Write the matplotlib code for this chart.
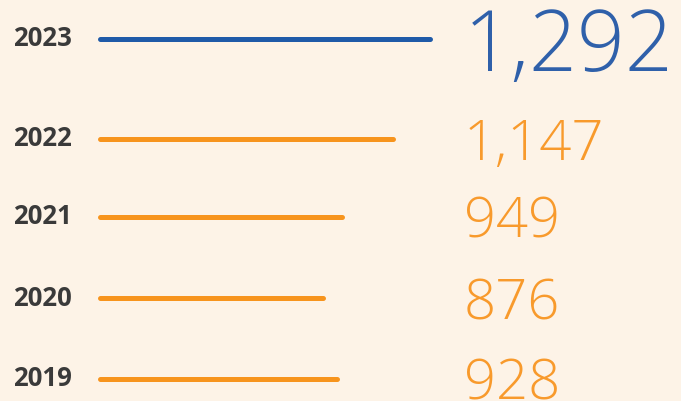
import matplotlib.pyplot as plt

years = ['2023', '2022', '2021', '2020', '2019']
values = [1292, 1147, 949, 876, 928]

# row centres in pixels from the top (layout)
row_y = [38.5, 139, 217, 298, 379]

bg = '#fdf3e7'
blue = '#1f5aa8'
blue_text = '#2f60aa'
orange = '#f7941d'
orange_text = '#f89a2c'

fig = plt.figure(figsize=(6.81, 4.01), dpi=100, facecolor=bg)
ax = fig.add_axes([0, 0, 1, 1])
ax.set_facecolor(bg)

# x in data units: 0 sits at 100 px, 1292 at 429.5 px
px_per_unit = 329.5 / 1292
ax.set_xlim(-100 / px_per_unit, (681 - 100) / px_per_unit)
ax.set_ylim(401, 0)
ax.axis('off')

for i, (year, val) in enumerate(zip(years, values)):
    y = row_y[i]
    first = i == 0
    ax.plot([0, val], [y, y], color=blue if first else orange, lw=3.6,
            solid_capstyle='round')
    ax.annotate(year, xy=(0, y), xycoords=('axes fraction', 'data'),
                xytext=(72, 0), textcoords=('figure pixels', 'offset points'),
                ha='right', va='center', fontsize=18.5, fontweight='bold',
                family='Open Sans', color='#3a3a3a')
    size = 60.5 if first else 40.5
    ax.annotate(f'{val:,}', xy=(0, y), xycoords=('axes fraction', 'data'),
                xytext=(464, 0), textcoords=('figure pixels', 'offset points'),
                ha='left', va='center_baseline', fontsize=size,
                family='Open Sans', fontweight='light',
                color=blue_text if first else orange_text)

fig.savefig('out.png', dpi=100, facecolor=bg)
